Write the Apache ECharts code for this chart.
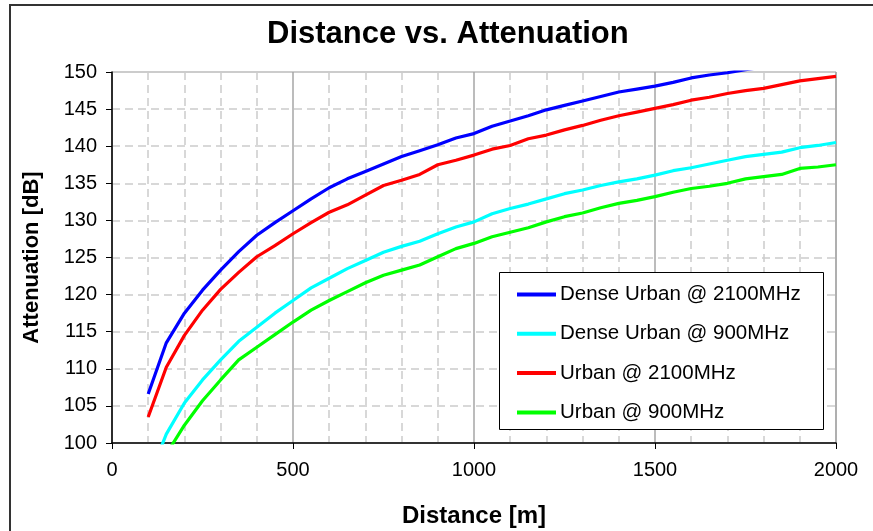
<!DOCTYPE html>
<html>
<head>
<meta charset="utf-8">
<script src="https://cdn.jsdelivr.net/npm/echarts@6/dist/echarts.min.js"></script>
<style>
    html, body { margin: 0; padding: 0; background: #fff; }
    #chart { width: 873px; height: 531px; }
</style>
</head>
<body>
<div id="chart"></div>
<script>
    // distance in metres
    const distances = [100, 150, 200, 250, 300, 350, 400, 450, 500, 550, 600, 650, 700, 750, 800, 850, 900, 950, 1000,
        1050, 1100, 1150, 1200, 1250, 1300, 1350, 1400, 1450, 1500, 1550, 1600, 1650, 1700, 1750, 1800, 1850, 1900, 1950, 2000]

    const denseUrban2100 = [106.6, 113.5, 117.5, 120.6, 123.3, 125.8, 128.0, 129.7, 131.3, 132.9, 134.4, 135.6, 136.6, 137.6, 138.6, 139.4, 140.2, 141.1, 141.7,
        142.7, 143.4, 144.1, 144.9, 145.5, 146.1, 146.7, 147.3, 147.7, 148.1, 148.6, 149.2, 149.6, 149.9, 150.3, 150.7, 151.1, 151.5, 151.9, 152.3]
    const denseUrban900 = [95.0, 101.2, 105.4, 108.5, 111.2, 113.7, 115.6, 117.5, 119.2, 120.9, 122.2, 123.5, 124.6, 125.7, 126.5, 127.2, 128.2, 129.1, 129.8,
        130.9, 131.6, 132.2, 132.9, 133.6, 134.1, 134.7, 135.2, 135.6, 136.1, 136.7, 137.1, 137.6, 138.1, 138.6, 138.9, 139.2, 139.8, 140.1, 140.5]
    const urban2100 = [103.5, 110.2, 114.5, 117.9, 120.7, 123.0, 125.1, 126.6, 128.2, 129.7, 131.1, 132.1, 133.4, 134.7, 135.4, 136.2, 137.5, 138.1, 138.8,
        139.6, 140.1, 141.0, 141.5, 142.2, 142.8, 143.5, 144.1, 144.6, 145.1, 145.6, 146.2, 146.6, 147.1, 147.5, 147.8, 148.3, 148.8, 149.1, 149.4]
    const urban900 = [91.5, 98.5, 102.4, 105.7, 108.5, 111.2, 112.9, 114.6, 116.3, 117.9, 119.2, 120.4, 121.6, 122.6, 123.3, 124.0, 125.1, 126.2, 126.9,
        127.8, 128.4, 129.0, 129.8, 130.5, 131.0, 131.7, 132.3, 132.7, 133.2, 133.8, 134.3, 134.6, 135.0, 135.6, 135.9, 136.2, 137.0, 137.2, 137.5]

    const seriesNames = ['Dense Urban @ 2100MHz', 'Dense Urban @ 900MHz', 'Urban @ 2100MHz', 'Urban @ 900MHz']
    const seriesValues = [denseUrban2100, denseUrban900, urban2100, urban900]
    const seriesColors = ['#0000ff', '#00ffff', '#ff0000', '#00ff00']

    const font = 'Arial, "Liberation Sans", sans-serif'

    let chart = echarts.init(document.getElementById('chart'), null, {renderer: 'canvas'})

    let option = {
        backgroundColor: '#fff',
        animation: false,
        textStyle: {fontFamily: font},
        title: {
            text: 'Distance vs. Attenuation',
            left: 262,
            top: 14,
            textStyle: {fontSize: 31, fontWeight: 'bold', color: '#000', fontFamily: font}
        },
        graphic: [
            {
                // outer chart frame
                type: 'rect',
                shape: {x: 10, y: 5, width: 900, height: 560},
                style: {fill: 'none', stroke: '#333', lineWidth: 2},
                z: 0
            },
            {
                // legend box
                type: 'rect',
                shape: {x: 499.5, y: 272.5, width: 324, height: 157},
                style: {fill: '#fff', stroke: '#000', lineWidth: 1},
                z: 10
            }
        ],
        grid: {
            left: 112,
            right: 37,
            top: 72,
            bottom: 88,
            outerBoundsMode: 'none',
            containLabel: false,
            show: true,
            borderColor: '#999',
            borderWidth: 1
        },
        legend: {
            data: seriesNames,
            orient: 'vertical',
            left: 517,
            top: 284,
            icon: 'rect',
            itemWidth: 39,
            itemHeight: 4,
            itemGap: 18.3,
            padding: 0,
            z: 11,
            textStyle: {fontSize: 20.5, color: '#000', fontFamily: font, padding: [0, 0, 0, -1]}
        },
        xAxis: {
            type: 'value',
            min: 0,
            max: 2000,
            interval: 500,
            name: 'Distance [m]',
            nameLocation: 'middle',
            nameGap: 61,
            nameTextStyle: {fontSize: 24, fontWeight: 'bold', color: '#000'},
            axisLine: {onZero: false, lineStyle: {color: '#000', width: 1.5}},
            axisTick: {show: true, inside: false, length: 6, lineStyle: {color: '#000'}},
            axisLabel: {fontSize: 20, color: '#000', margin: 17, formatter: v => String(v)},
            splitLine: {show: true, lineStyle: {color: '#a6a6a6', width: 1.5}},
            minorTick: {show: false, splitNumber: 5},
            minorSplitLine: {show: true, lineStyle: {color: '#cccccc', type: [8, 5], width: 1.5}}
        },
        yAxis: {
            type: 'value',
            min: 100,
            max: 150,
            interval: 5,
            name: 'Attenuation [dB]',
            nameLocation: 'middle',
            nameGap: 69,
            nameTextStyle: {fontSize: 22, fontWeight: 'bold', color: '#000'},
            axisLine: {show: true, lineStyle: {color: '#000', width: 1.5}},
            axisTick: {show: true, inside: false, length: 6, lineStyle: {color: '#000'}},
            axisLabel: {fontSize: 20, color: '#000', margin: 15},
            splitLine: {show: true, lineStyle: {color: '#cccccc', type: [8, 5], width: 1.5}}
        },
        series: seriesNames.map((name, i) => ({
            name: name,
            type: 'line',
            data: distances.map((d, j) => [d, seriesValues[i][j]]),
            showSymbol: false,
            symbol: 'none',
            clip: true,
            color: seriesColors[i],
            lineStyle: {color: seriesColors[i], width: 3.2},
            z: 5
        }))
    }

    chart.setOption(option)
</script>
</body>
</html>
